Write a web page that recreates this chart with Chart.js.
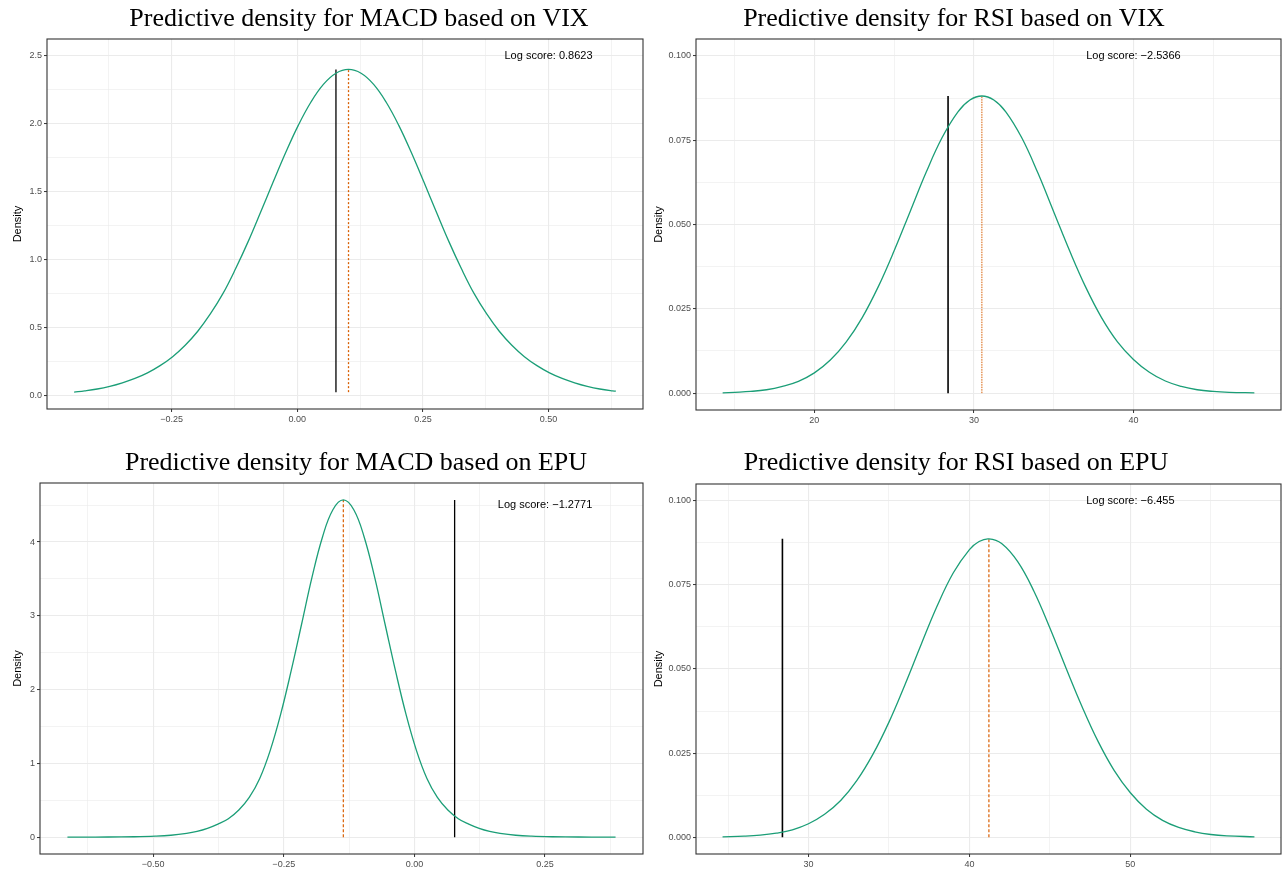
<!DOCTYPE html>
<html>
<head>
<meta charset="utf-8">
<script src="https://cdn.jsdelivr.net/npm/chart.js@4.4.0/dist/chart.umd.min.js"></script>
<style>
  body { margin: 0; background: #fff; }
  #wrap { position: relative; width: 1282px; height: 872px; }
  .cell { position: absolute; }
  canvas { display: block; }
</style>
</head>
<body>
<div id="wrap">
  <div class="cell" style="left:0;top:0"><canvas id="c1" width="646" height="440"></canvas></div>
  <div class="cell" style="left:646px;top:0"><canvas id="c2" width="636" height="440"></canvas></div>
  <div class="cell" style="left:0;top:440px"><canvas id="c3" width="646" height="432"></canvas></div>
  <div class="cell" style="left:646px;top:440px"><canvas id="c4" width="636" height="432"></canvas></div>
</div>
<script>
// --- density curves ---
const macdVixX = [-0.444, -0.423, -0.398, -0.373, -0.348, -0.323, -0.298, -0.273, -0.248, -0.223, -0.198, -0.173, -0.148, -0.123, -0.098, -0.073, -0.048, -0.023, 0.002, 0.027, 0.052, 0.077,
  0.102, 0.127, 0.152, 0.177, 0.202, 0.227, 0.252, 0.277, 0.302, 0.327, 0.352, 0.377, 0.402, 0.427, 0.452, 0.477, 0.502, 0.527, 0.552, 0.577, 0.602, 0.627, 0.634];
const macdVixY = [0.027, 0.036, 0.050, 0.070, 0.096, 0.128, 0.169, 0.222, 0.288, 0.372, 0.475, 0.602, 0.751, 0.932, 1.132, 1.350, 1.572, 1.789, 1.989, 2.159, 2.290, 2.372,
  2.400, 2.372, 2.290, 2.159, 1.989, 1.789, 1.572, 1.350, 1.132, 0.932, 0.751, 0.602, 0.475, 0.372, 0.288, 0.222, 0.169, 0.128, 0.096, 0.070, 0.050, 0.036, 0.034];

const rsiVixX = [14.25, 15, 16, 17, 18, 19, 20, 21, 22, 23, 24, 25, 26, 27, 28, 29, 29.75, 30.5, 31.25, 32, 33, 34, 35, 36, 37, 38, 39, 40, 41, 42, 43, 44, 45, 46, 47.58];
const rsiVixY = [0.0001, 0.00025, 0.0005, 0.0010, 0.0020, 0.0035, 0.0060, 0.0098, 0.0152, 0.0224, 0.0315, 0.0422, 0.0538, 0.0654, 0.0757, 0.0834, 0.0869, 0.0881, 0.0869, 0.0834, 0.0757, 0.0654, 0.0538, 0.0422, 0.0315, 0.0224, 0.0152, 0.0100, 0.0062, 0.0036, 0.0020, 0.0010, 0.0005, 0.00025, 0.0001];

const macdEpuX = [-0.664, -0.636, -0.586, -0.536, -0.496, -0.466, -0.436, -0.416, -0.396, -0.376, -0.356, -0.336, -0.316, -0.296, -0.276, -0.256, -0.236, -0.216, -0.196, -0.176, -0.156,
  -0.136, -0.116, -0.096, -0.076, -0.056, -0.036, -0.016, 0.004, 0.024, 0.044, 0.064, 0.084, 0.104, 0.124, 0.144, 0.164, 0.194, 0.224, 0.264, 0.314, 0.364, 0.385];
const macdEpuY = [0.0004, 0.0007, 0.0019, 0.0055, 0.0131, 0.0256, 0.0508, 0.0775, 0.1187, 0.176, 0.250, 0.368, 0.538, 0.795, 1.173, 1.664, 2.249, 2.882, 3.520, 4.065, 4.437,
  4.570, 4.437, 4.065, 3.520, 2.882, 2.249, 1.664, 1.173, 0.795, 0.538, 0.368, 0.250, 0.176, 0.1187, 0.0775, 0.0508, 0.0256, 0.0131, 0.0055, 0.0019, 0.0007, 0.0004];

const rsiEpuX = [24.66, 26, 27, 28, 29, 30, 31, 32, 33, 34, 35, 36, 37, 38, 39, 40, 40.6, 41.21, 42, 43, 44, 45, 46, 47, 48, 49, 50, 51, 52, 53, 54, 55, 56, 57.71];
const rsiEpuY = [0.0001, 0.0003, 0.0006, 0.0012, 0.0022, 0.0040, 0.0068, 0.0109, 0.0168, 0.0246, 0.0342, 0.0454, 0.0573, 0.0688, 0.0786, 0.0855, 0.0879, 0.0887, 0.0873, 0.0819, 0.0732, 0.0622, 0.0503, 0.0388, 0.0284, 0.0198, 0.0132, 0.0083, 0.0050, 0.0029, 0.0016, 0.0008, 0.0004, 0.0001];

// realised value (black), predictive mean (orange), segment bottom / top
const realised = [0.077, 28.38, 0.077, 28.38];
const predMean = [0.102, 30.5, -0.136, 41.21];
const segBottom = [0.027, 0, 0, 0];
const segTop = [2.40, 0.0881, 4.57, 0.0887];

const titles = [
  'Predictive density for MACD based on VIX',
  'Predictive density for RSI based on VIX',
  'Predictive density for MACD based on EPU',
  'Predictive density for RSI based on EPU'
];
const scoreText = ['Log score: 0.8623', 'Log score: \u22122.5366', 'Log score: \u22121.2771', 'Log score: \u22126.455'];
const scoreX = [0.5, 40, 0.25, 50];
const scoreY = [2.5, 0.1, 4.5, 0.1];

// axis ticks
const xMajor = [[-0.25, 0, 0.25, 0.5], [20, 30, 40], [-0.5, -0.25, 0, 0.25], [30, 40, 50]];
const xLabels = [['\u22120.25', '0.00', '0.25', '0.50'], ['20', '30', '40'], ['\u22120.50', '\u22120.25', '0.00', '0.25'], ['30', '40', '50']];
const xMinor = [[-0.375, -0.125, 0.125, 0.375, 0.625], [15, 25, 35, 45], [-0.625, -0.375, -0.125, 0.125, 0.375], [25, 35, 45, 55]];
const yMajor = [[0, 0.5, 1, 1.5, 2, 2.5], [0, 0.025, 0.05, 0.075, 0.1], [0, 1, 2, 3, 4], [0, 0.025, 0.05, 0.075, 0.1]];
const yLabels = [['0.0', '0.5', '1.0', '1.5', '2.0', '2.5'], ['0.000', '0.025', '0.050', '0.075', '0.100'], ['0', '1', '2', '3', '4'], ['0.000', '0.025', '0.050', '0.075', '0.100']];
const yMinor = [[0.25, 0.75, 1.25, 1.75, 2.25], [0.0125, 0.0375, 0.0625, 0.0875], [0.5, 1.5, 2.5, 3.5, 4.5], [0.0125, 0.0375, 0.0625, 0.0875]];
const xRange = [[-0.498, 0.688], [12.58, 49.25], [-0.7165, 0.4375], [23.01, 59.36]];
const yRange = [[-0.097, 2.624], [-0.005, 0.105], [-0.2285, 4.80], [-0.005, 0.105]];

const curvesX = [macdVixX, rsiVixX, macdEpuX, rsiEpuX];
const curvesY = [macdVixY, rsiVixY, macdEpuY, rsiEpuY];

// canvas layout per panel
const panels = [
  { id: 'c1', yw: 47, pad: { left: 0, right: 3, top: 39, bottom: 13 }, tx: 359, ty: 26, dx: 18, dash: [2, 2], blackW: 1.3, orangeW: 1.3 },
  { id: 'c2', yw: 50, pad: { left: 0, right: 1, top: 39, bottom: 12 }, tx: 308, ty: 26, dx: 13, dash: [1.5, 1], blackW: 1.6, orangeW: 1 },
  { id: 'c3', yw: 40, pad: { left: 0, right: 3, top: 43, bottom: 0 }, tx: 356, ty: 30, dx: 18, dash: [3, 2], blackW: 1.3, orangeW: 1.2 },
  { id: 'c4', yw: 50, pad: { left: 0, right: 1, top: 44, bottom: 0 }, tx: 310, ty: 30, dx: 13, dash: [3, 2], blackW: 1.6, orangeW: 1.2 }
];

const SANS = '"Liberation Sans", Arial, Helvetica, sans-serif';
const GREEN = '#1B9E77';
const ORANGE = '#D95F02';

const decorations = {
  id: 'decorations',
  afterDatasetsDraw(chart, args, opts) {
    const { ctx, scales } = chart;
    const i = opts.index;
    ctx.save();
    ctx.fillStyle = '#000';
    ctx.font = '11px ' + SANS;
    ctx.textAlign = 'center';
    ctx.textBaseline = 'middle';
    ctx.fillText(scoreText[i], scales.x.getPixelForValue(scoreX[i]), scales.y.getPixelForValue(scoreY[i]));
    ctx.restore();
  },
  afterDraw(chart, args, opts) {
    const { ctx, chartArea: a } = chart;
    const p = panels[opts.index];
    ctx.save();
    // panel border
    ctx.strokeStyle = '#333333';
    ctx.lineWidth = 1.1;
    ctx.strokeRect(a.left, a.top, a.right - a.left, a.bottom - a.top);
    // title
    ctx.fillStyle = '#000';
    ctx.font = '26px "Liberation Serif", "Times New Roman", serif';
    ctx.textAlign = 'center';
    ctx.textBaseline = 'alphabetic';
    ctx.fillText(titles[opts.index], p.tx, p.ty);
    // y axis title
    ctx.font = '11px ' + SANS;
    ctx.textBaseline = 'middle';
    ctx.translate(p.dx, (a.top + a.bottom) / 2);
    ctx.rotate(-Math.PI / 2);
    ctx.fillText('Density', 0, 0);
    ctx.restore();
  }
};

function axis(i, horizontal) {
  const major = horizontal ? xMajor[i] : yMajor[i];
  const minor = horizontal ? xMinor[i] : yMinor[i];
  const labels = horizontal ? xLabels[i] : yLabels[i];
  const range = horizontal ? xRange[i] : yRange[i];
  const all = major.concat(minor).sort((a, b) => a - b);
  const isMajor = v => major.indexOf(v) >= 0;
  return {
    type: 'linear',
    min: range[0],
    max: range[1],
    afterBuildTicks: s => { s.ticks = all.map(v => ({ value: v })); },
    afterFit: s => {
      if (horizontal) s.height = 18; else s.width = panels[i].yw;
    },
    ticks: {
      autoSkip: false,
      maxRotation: 0,
      padding: 2,
      color: '#4D4D4D',
      font: { family: SANS, size: 9 },
      callback: v => { const k = major.indexOf(v); return k < 0 ? '' : labels[k]; }
    },
    grid: {
      color: '#EBEBEB',
      lineWidth: c => (c.tick && isMajor(c.tick.value)) ? 1.1 : 0.6,
      drawTicks: true,
      tickLength: 3,
      tickWidth: 1,
      tickColor: c => (c.tick && isMajor(c.tick.value)) ? '#333333' : 'rgba(0,0,0,0)'
    },
    border: { display: false }
  };
}

panels.forEach((p, i) => {
  const xs = curvesX[i], ys = curvesY[i];
  new Chart(document.getElementById(p.id), {
    type: 'line',
    data: {
      datasets: [
        {
          data: xs.map((x, k) => ({ x, y: ys[k] })),
          borderColor: GREEN, borderWidth: 1.3, pointRadius: 0,
          tension: 0.4, fill: false
        },
        {
          data: [{ x: realised[i], y: segBottom[i] }, { x: realised[i], y: segTop[i] }],
          borderColor: '#000', borderWidth: p.blackW, pointRadius: 0, fill: false
        },
        {
          data: [{ x: predMean[i], y: segBottom[i] }, { x: predMean[i], y: segTop[i] }],
          borderColor: ORANGE, borderWidth: p.orangeW, borderDash: p.dash, pointRadius: 0, fill: false
        }
      ]
    },
    options: {
      responsive: false,
      animation: false,
      layout: { padding: p.pad },
      plugins: {
        legend: { display: false },
        tooltip: { enabled: false },
        decorations: { index: i }
      },
      scales: { x: axis(i, true), y: axis(i, false) }
    },
    plugins: [decorations]
  });
});
</script>
</body>
</html>
